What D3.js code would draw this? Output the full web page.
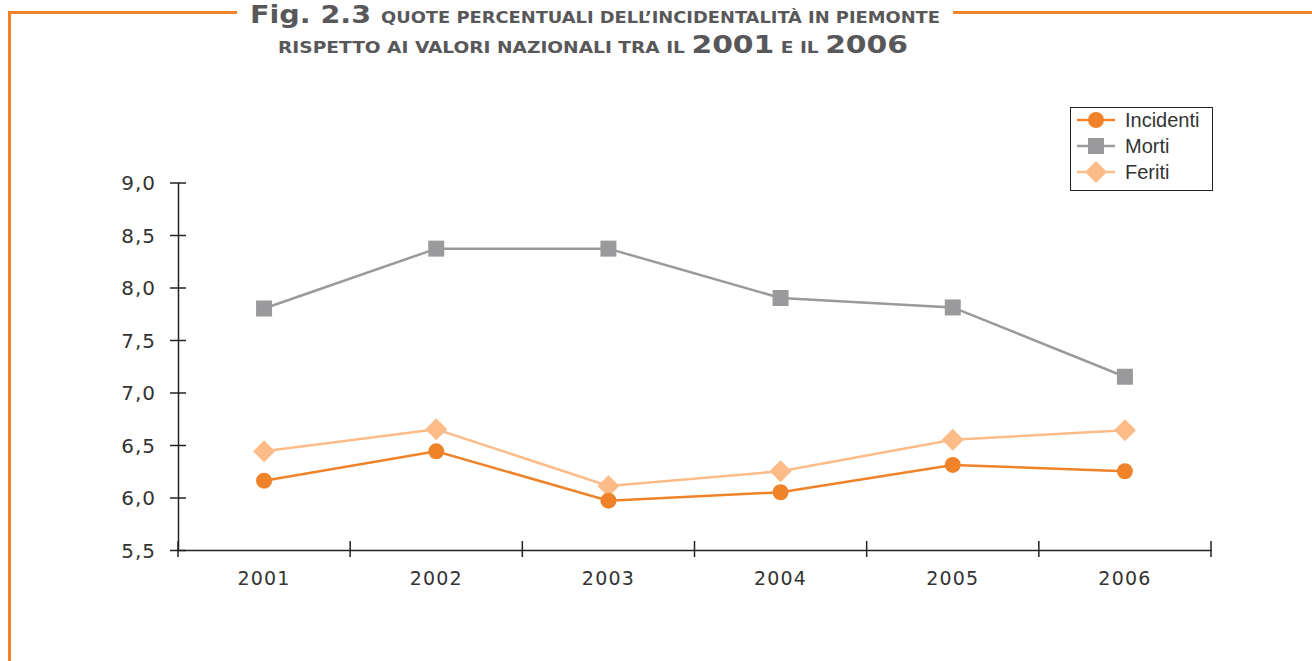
<!DOCTYPE html>
<html><head><meta charset="utf-8">
<script src="https://cdn.jsdelivr.net/npm/d3@7"></script>
<style>html,body{margin:0;padding:0;background:#fff;}svg{display:block;}</style>
</head><body>
<script>
const years = ["2001","2002","2003","2004","2005","2006"];
const incidenti = [6.16, 6.44, 5.97, 6.05, 6.31, 6.25];
const morti = [7.80, 8.37, 8.37, 7.90, 7.81, 7.15];
const feriti = [6.44, 6.65, 6.11, 6.25, 6.55, 6.64];
const yTicks = [5.5, 6.0, 6.5, 7.0, 7.5, 8.0, 8.5, 9.0];
const seriesNames = ["Incidenti", "Morti", "Feriti"];

const W = 1312, H = 661;
const svg = d3.select("body").append("svg").attr("width", W).attr("height", H);

// frame
const orange = "#F08229";
svg.append("path")
  .attr("d", "M9.5,661 L9.5,12.5 L237,12.5")
  .attr("fill","none").attr("stroke", orange).attr("stroke-width", 3);
svg.append("line").attr("x1",953).attr("x2",1312).attr("y1",12.5).attr("y2",12.5)
  .attr("stroke", orange).attr("stroke-width", 3);

// title
const tf = "'Liberation Sans Narrow','DejaVu Sans Condensed','Roboto','Liberation Sans',sans-serif";
const t1 = svg.append("text").attr("x", 250).attr("y", 23).attr("font-family", tf)
  .attr("font-weight","bold").attr("fill","#58585a")
  .attr("textLength", 690).attr("lengthAdjust","spacingAndGlyphs");
t1.append("tspan").attr("font-size", 24).text("Fig. 2.3 ");
t1.append("tspan").attr("font-size", 15).text("QUOTE PERCENTUALI DELL’INCIDENTALITÀ IN PIEMONTE");
const t2 = svg.append("text").attr("x", 278).attr("y", 53).attr("font-family", tf)
  .attr("font-weight","bold").attr("fill","#58585a")
  .attr("textLength", 630).attr("lengthAdjust","spacingAndGlyphs");
t2.append("tspan").attr("font-size", 15).text("RISPETTO AI VALORI NAZIONALI TRA IL ");
t2.append("tspan").attr("font-size", 24).text("2001");
t2.append("tspan").attr("font-size", 15).text(" E IL ");
t2.append("tspan").attr("font-size", 24).text("2006");

// scales
const x = d3.scaleBand().domain(years).range([178, 1211]);
const y = d3.scaleLinear().domain([5.5, 9.0]).range([550, 182.5]);

const lf = "'DejaVu Sans','Liberation Sans',sans-serif";

// y axis
const yAxis = svg.append("g").attr("transform","translate(178,0)")
  .call(d3.axisLeft(y).tickValues(yTicks).tickSize(0).tickPadding(22)
    .tickFormat(d => d3.format(".1f")(d).replace(".", ",")));
yAxis.select(".domain").attr("stroke","#222").attr("stroke-width",1.5);
yAxis.selectAll(".tick line").remove();
yAxis.selectAll(".tick").append("line").attr("x1",-8).attr("x2",8)
  .attr("stroke","#222").attr("stroke-width",1.5);
yAxis.selectAll("text").attr("font-family", lf).attr("font-size", 20).attr("fill","#333")
  .attr("letter-spacing", 1).attr("dy","0.36em");

// x axis
const xAxis = svg.append("g").attr("transform","translate(0,550)")
  .call(d3.axisBottom(x).tickSize(0).tickPadding(22));
xAxis.select(".domain").attr("stroke","#222").attr("stroke-width",1.5);
xAxis.selectAll("text").attr("font-family", lf).attr("font-size", 19).attr("fill","#333")
  .attr("letter-spacing", 1.2);
const bounds = years.map(d => x(d)).concat([x.range()[1]]);
xAxis.selectAll(".bt").data(bounds).enter().append("line").attr("class","bt")
  .attr("x1", d => d).attr("x2", d => d).attr("y1",-9).attr("y2",7)
  .attr("stroke","#222").attr("stroke-width",1.5);

const cx = d => x(d) + x.bandwidth()/2;
const series = [
  {name: seriesNames[0], vals: incidenti, color: "#F08229", shape: "circle"},
  {name: seriesNames[1], vals: morti, color: "#9A9A9D", shape: "square"},
  {name: seriesNames[2], vals: feriti, color: "#FDBB88", shape: "diamond"}
];
const line = d3.line().x((d,i) => cx(years[i])).y(d => y(d));

function marker(g, shape, color) {
  if (shape === "circle") g.append("circle").attr("r", 8).attr("fill", color);
  else if (shape === "square") g.append("rect").attr("x",-8).attr("y",-8).attr("width",16).attr("height",16).attr("fill", color);
  else g.append("path").attr("d","M0,-11 L11,0 L0,11 L-11,0 Z").attr("fill", color);
}

[series[2], series[1], series[0]].forEach(s => {
  svg.append("path").datum(s.vals).attr("d", line).attr("fill","none")
    .attr("stroke", s.color).attr("stroke-width", 2.5);
  s.vals.forEach((v,i) => {
    const g = svg.append("g").attr("transform", `translate(${cx(years[i])},${y(v)})`);
    marker(g, s.shape, s.color);
  });
});

// legend
const lg = svg.append("g");
lg.append("rect").attr("x",1070.5).attr("y",107.5).attr("width",142).attr("height",83)
  .attr("fill","#fff").attr("stroke","#222").attr("stroke-width",1);
series.forEach((s,i) => {
  const yy = 120 + i*26;
  lg.append("line").attr("x1",1077).attr("x2",1115).attr("y1",yy).attr("y2",yy)
    .attr("stroke", s.color).attr("stroke-width", 2.5);
  const g = lg.append("g").attr("transform", `translate(1096,${yy})`);
  marker(g, s.shape, s.color);
  lg.append("text").attr("x",1125).attr("y",yy).attr("dy","0.36em")
    .attr("font-family","'Liberation Sans',sans-serif").attr("font-size",20).attr("fill","#333")
    .text(s.name);
});
</script>
</body></html>
